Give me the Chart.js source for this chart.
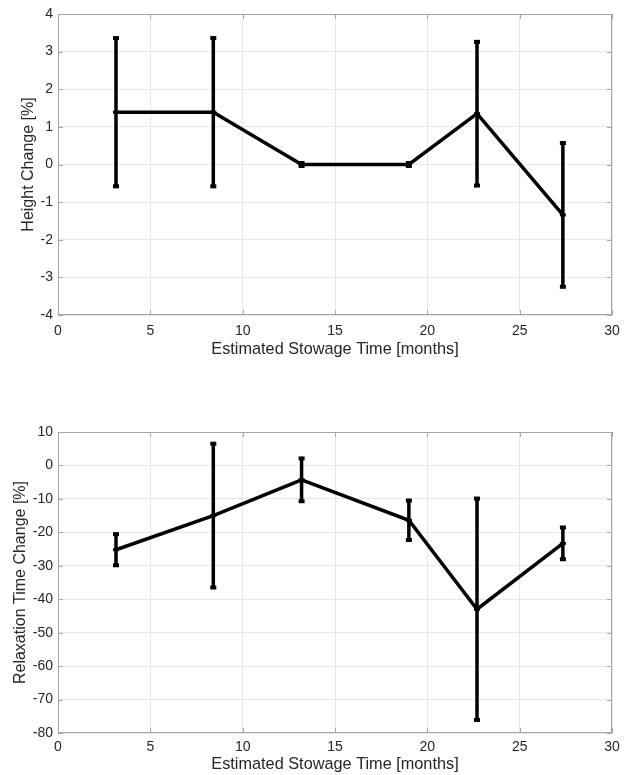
<!DOCTYPE html>
<html>
<head>
<meta charset="utf-8">
<script src="https://cdn.jsdelivr.net/npm/chart.js@4"></script>
<style>
  html, body { margin: 0; padding: 0; background: #fff; }
  #wrap { position: relative; width: 629px; height: 775px; }
  .panel { position: absolute; left: 0; }
</style>
</head>
<body>
<div id="wrap">
  <div class="panel" style="top:0"><canvas id="heightChart" width="629" height="388"></canvas></div>
  <div class="panel" style="top:388px"><canvas id="relaxChart" width="629" height="387"></canvas></div>
</div>
<script>
// Data
const months = [3.14, 8.41, 13.19, 19.0, 22.69, 27.34];
const heightChange = [1.39, 1.39, 0, 0, 1.35, -1.34];
const heightError = [1.97, 1.97, 0.04, 0.04, 1.91, 1.91];
const relaxChange = [-25.2, -15.0, -4.3, -16.4, -43.0, -23.3];
const relaxError = [4.65, 21.5, 6.4, 5.9, 33.1, 4.75];
const xTitle = "Estimated Stowage Time [months]";

const FONT = "'Liberation Sans', Arial, Helvetica, sans-serif";
const TEXT = "#262626";
const AXIS = "#a6a6a6";

// error bars as one broken line: low, high, gap
function errorBarPoints(values, errors) {
  const pts = [];
  months.forEach((m, i) => {
    pts.push({ x: m, y: values[i] - errors[i] });
    pts.push({ x: m, y: values[i] + errors[i] });
    pts.push({ x: m, y: null });
  });
  return pts;
}

// matlab style box with inward ticks
const boxTicks = {
  id: "boxTicks",
  afterDraw(chart) {
    const { ctx, chartArea: a, scales } = chart;
    ctx.save();
    ctx.strokeStyle = AXIS;
    ctx.lineWidth = 1;
    ctx.beginPath();
    scales.x.ticks.forEach(t => {
      const px = Math.round(scales.x.getPixelForValue(t.value)) + 0.5;
      ctx.moveTo(px, a.top); ctx.lineTo(px, a.top + 5);
      ctx.moveTo(px, a.bottom); ctx.lineTo(px, a.bottom - 5);
    });
    scales.y.ticks.forEach(t => {
      const py = Math.round(scales.y.getPixelForValue(t.value)) + 0.5;
      ctx.moveTo(a.left, py); ctx.lineTo(a.left + 5, py);
      ctx.moveTo(a.right, py); ctx.lineTo(a.right - 5, py);
    });
    ctx.stroke();
    ctx.strokeRect(Math.round(a.left) + 0.5, Math.round(a.top) + 0.5,
      Math.round(a.width) - 1, Math.round(a.height) - 1);
    ctx.restore();
  }
};

function makeChart(canvasId, values, errors, yLabel, yMin, yMax, yStep, lay) {
  const data = {
    datasets: [
      {
        data: months.map((m, i) => ({ x: m, y: values[i] })),
        borderColor: "#000",
        borderWidth: 3.5,
        pointStyle: "line",
        pointRadius: 3,
        pointBorderWidth: 3,
        pointBorderColor: "#000",
        tension: 0
      },
      {
        data: errorBarPoints(values, errors),
        borderColor: "#000",
        borderWidth: 3.5,
        spanGaps: false,
        pointStyle: "line",
        pointRadius: 3,
        pointBorderWidth: 4,
        pointBorderColor: "#000",
        tension: 0
      }
    ]
  };
  const options = {
    responsive: false,
    animation: false,
    layout: { padding: { top: lay.top, right: 17, left: 0, bottom: 0 } },
    plugins: { legend: { display: false }, tooltip: { enabled: false } },
    scales: {
      x: {
        type: "linear",
        min: 0,
        max: 30,
        afterFit: s => { s.height = lay.xHeight; },
        border: { display: false },
        grid: { color: "#e8e8e8", drawTicks: false },
        ticks: {
          stepSize: 5, maxRotation: 0, autoSkip: false,
          padding: lay.tickPad, color: TEXT, font: { family: FONT, size: 14 }
        },
        title: {
          display: true, text: xTitle, color: TEXT,
          font: { family: FONT, size: 16.3 },
          padding: { top: 0, bottom: lay.xTitlePad }
        }
      },
      y: {
        min: yMin,
        max: yMax,
        afterFit: s => { s.width = 58; },
        border: { display: false },
        grid: { color: "#e8e8e8", drawTicks: false },
        ticks: {
          stepSize: yStep, padding: 5, color: TEXT,
          font: { family: FONT, size: 14 }
        },
        title: {
          display: true, text: yLabel, color: TEXT,
          font: { family: FONT, size: 16 },
          padding: { top: lay.yTitlePad, bottom: 0 }
        }
      }
    }
  };
  return new Chart(document.getElementById(canvasId), {
    type: "line",
    data: data,
    options: options,
    plugins: [boxTicks]
  });
}

makeChart("heightChart", heightChange, heightError, "Height Change [%]", -4, 4, 1,
  { top: 14, xHeight: 73, tickPad: 8, xTitlePad: 29, yTitlePad: 19 });
makeChart("relaxChart", relaxChange, relaxError, "Relaxation Time Change [%]", -80, 10, 10,
  { top: 44, xHeight: 42, tickPad: 6, xTitlePad: 1, yTitlePad: 11 });
</script>
</body>
</html>
